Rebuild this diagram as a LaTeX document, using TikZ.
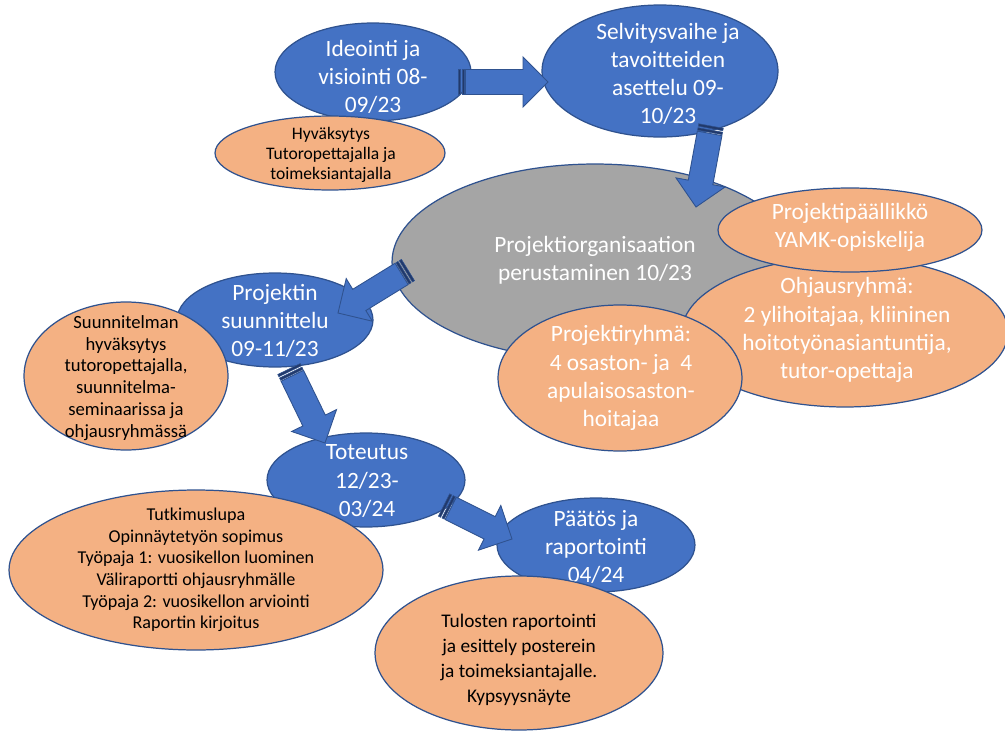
\documentclass[tikz,border=0pt]{standalone}
\usepackage{fontspec}
\setmainfont{Carlito}
\usetikzlibrary{shapes.geometric, calc}
\definecolor{phaseblue}{HTML}{4472C4}
\definecolor{edgeblue}{HTML}{2F528F}
\definecolor{stripeblue}{HTML}{22396A}
\definecolor{noteorange}{HTML}{F4B183}
\definecolor{orggray}{HTML}{A5A5A5}

\tikzset{
  blob/.style={ellipse, draw=edgeblue, line width=0.7pt, inner sep=0pt},
  phase/.style={blob, fill=phaseblue},
  note/.style={blob, fill=noteorange},
  orgbox/.style={blob, fill=orggray},
  bigtext/.style={text=white, align=center, inner sep=0pt, font=\fontsize{13.3}{16}\selectfont},
  smalltext/.style={text=black, align=center, inner sep=0pt},
  arrowbody/.style={fill=phaseblue, draw=edgeblue, line width=0.5pt, line join=miter},
  arrowstripe/.style={fill=stripeblue, draw=edgeblue, line width=0.3pt}
}

% block arrow with two stripes at the tail: #1 tail, #2 tip
\newcommand{\stripedarrow}[2]{%
  \coordinate (hb) at ($(#2)!0.5cm!(#1)$);
  \coordinate (sb) at ($(#1)!0.15cm!(#2)$);
  \coordinate (s1) at ($(#1)!0.05cm!(#2)$);
  \coordinate (s2) at ($(#1)!0.08cm!(#2)$);
  \coordinate (s3) at ($(#1)!0.13cm!(#2)$);
  \filldraw[arrowbody] ($(sb)!0.25cm!90:(#2)$) -- ($(hb)!0.25cm!90:(#2)$)
    -- ($(hb)!0.5cm!90:(#2)$) -- (#2) -- ($(hb)!0.5cm!-90:(#2)$)
    -- ($(hb)!0.25cm!-90:(#2)$) -- ($(sb)!0.25cm!-90:(#2)$) -- cycle;
  \filldraw[arrowstripe] ($(#1)!0.25cm!90:(#2)$) -- ($(s1)!0.25cm!90:(#2)$)
    -- ($(s1)!0.25cm!-90:(#2)$) -- ($(#1)!0.25cm!-90:(#2)$) -- cycle;
  \filldraw[arrowstripe] ($(s2)!0.25cm!90:(#2)$) -- ($(s3)!0.25cm!90:(#2)$)
    -- ($(s3)!0.25cm!-90:(#2)$) -- ($(s2)!0.25cm!-90:(#2)$) -- cycle;
}

\begin{document}
\begin{tikzpicture}[x=0.02cm, y=-0.02cm]

% Background (pixel grid, y down)
\fill[white] (0,0) rectangle (1005,734);
\useasboundingbox (0,0) rectangle (1005,734);

% Arrow end points
\coordinate (a1s) at (458,82);  \coordinate (a1e) at (548,82);
\coordinate (a2s) at (711,126); \coordinate (a2e) at (696,207);
\coordinate (a3s) at (408,270); \coordinate (a3e) at (338,313);
\coordinate (a4s) at (289,369); \coordinate (a4e) at (325,443);
\coordinate (a5s) at (444,505); \coordinate (a5e) at (512,539);

% Ideation
\node[phase, minimum width=3.92cm, minimum height=1.96cm] (ideo) at (373,72) {};
\node[bigtext] (ideo-t) at (373,77) {Ideointi ja\\visiointi 08-\\09/23};
\node[note, minimum width=4.6cm, minimum height=1.48cm] (hyv) at (330,153) {};
\node[smalltext, font=\fontsize{10}{11.4}\selectfont] (hyv-t) at (331,155)
  {Hyväksytys\\Tutoropettajalla ja\\toimeksiantajalla};

% Survey phase
\node[phase, minimum width=4.72cm, minimum height=2.64cm] (selv) at (660,71) {};
\node[bigtext] (selv-t) at (668,74) {Selvitysvaihe ja\\tavoitteiden\\asettelu 09-\\10/23};
\stripedarrow{a1s}{a1e}

% Project organisation
\node[orgbox, minimum width=8.12cm, minimum height=3.92cm] (org) at (595,262) {};
\node[bigtext] (org-t) at (595,260) {Projektiorganisaation\\perustaminen 10/23};
\stripedarrow{a2s}{a2e}
\node[note, minimum width=6.52cm, minimum height=3.0cm] (ohj) at (845,332) {};
\node[bigtext] (ohj-t) at (847,330)
  {Ohjausryhmä:\\2 ylihoitajaa, kliininen\\hoitotyönasiantuntija,\\tutor-opettaja};
\node[note, minimum width=5.28cm, minimum height=1.68cm] (pp) at (850,230) {};
\node[bigtext] (pp-t) at (850,227) {Projektipäällikkö\\YAMK-opiskelija};
\node[note, minimum width=4.88cm, minimum height=2.92cm] (pr) at (620,378) {};
\node[bigtext] (pr-t) at (621,378)
  {Projektiryhmä:\\4 osaston- ja\ \ 4\\apulaisosaston-\\hoitajaa};

% Planning
\node[phase, minimum width=3.92cm, minimum height=1.88cm] (proj) at (275,320) {};
\node[bigtext] (proj-t) at (275,321) {Projektin\\suunnittelu\\09-11/23};
\stripedarrow{a3s}{a3e}
\node[note, minimum width=4.08cm, minimum height=2.96cm] (suun) at (126,376) {};
\node[smalltext, font=\fontsize{10.6}{12.4}\selectfont] (suun-t) at (126,378)
  {Suunnitelman\\hyväksytys\\tutoropettajalla,\\suunnitelma-\\seminaarissa ja\\ohjausryhmässä};

% Implementation
\node[phase, minimum width=3.96cm, minimum height=1.88cm] (tot) at (366,480) {};
\node[bigtext] (tot-t) at (367,481) {Toteutus\\12/23-\\03/24};
\stripedarrow{a4s}{a4e}
\node[note, minimum width=7.48cm, minimum height=3.2cm] (tutk) at (196,570) {};
\node[smalltext, font=\fontsize{10.3}{12.3}\selectfont] (tutk-t) at (196,570)
  {Tutkimuslupa\\Opinnäytetyön sopimus\\Työpaja 1: vuosikellon luominen\\%
   Väliraportti ohjausryhmälle\\Työpaja 2: vuosikellon arviointi\\Raportin kirjoitus};

% Decision and reporting
\node[phase, minimum width=3.96cm, minimum height=1.88cm] (paat) at (596,545) {};
\node[bigtext] (paat-t) at (596,547) {Päätös ja\\raportointi\\04/24};
\stripedarrow{a5s}{a5e}
\node[note, minimum width=5.76cm, minimum height=3.08cm] (tul) at (519,653) {};
\node[smalltext, font=\fontsize{11}{14.2}\selectfont] (tul-t) at (519,660)
  {Tulosten raportointi\\ja esittely posterein\\ja toimeksiantajalle.\\Kypsyysnäyte};

\end{tikzpicture}
\end{document}
